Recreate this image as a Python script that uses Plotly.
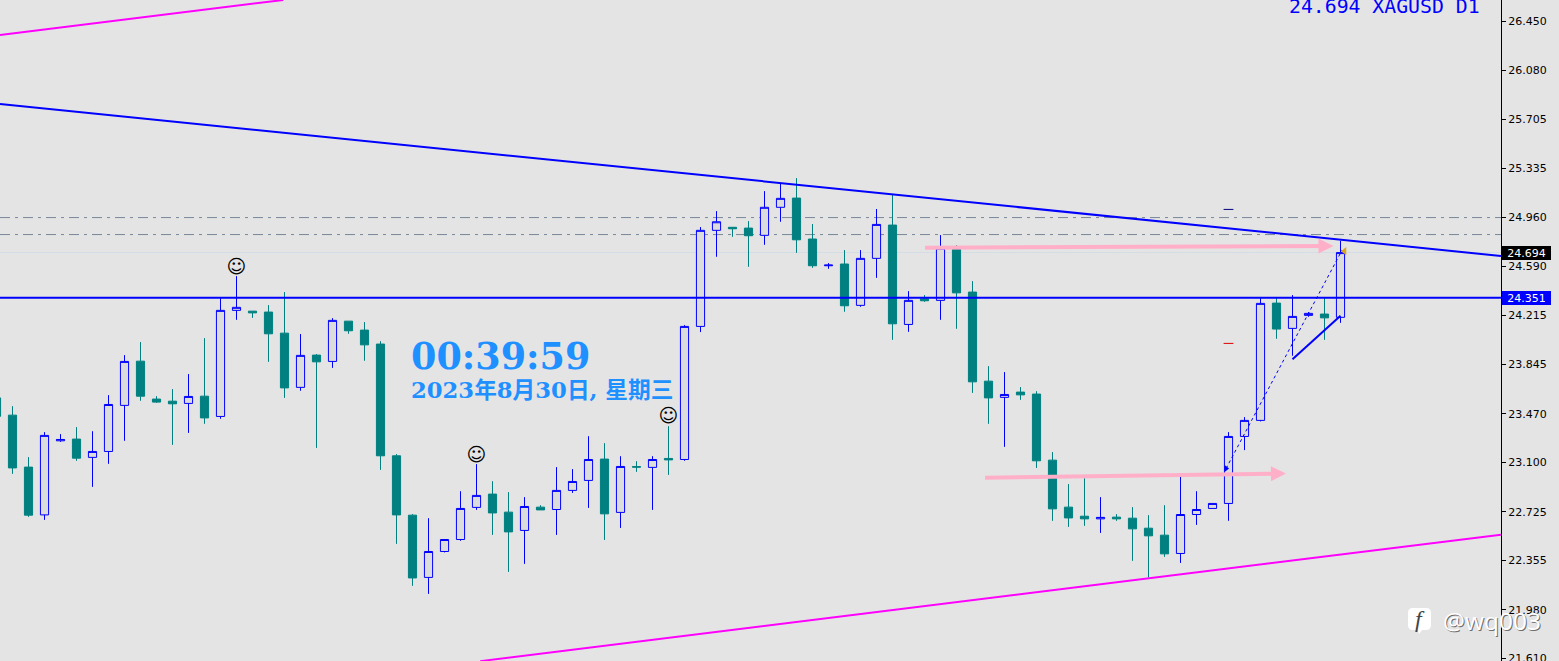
import plotly.graph_objects as go

# ---- data (prices) ----
open_ = [23.59,23.459,23.064,22.701,23.264,23.277,23.138,23.183,23.533,23.869,23.581,23.565,23.548,23.603,23.449,24.255,24.249,24.242,24.082,23.670,23.915,23.867,24.173,24.105,23.999,
         23.150,22.699,22.226,22.423,22.514,22.758,22.859,22.722,22.583,22.760,22.742,22.887,22.963,23.125,22.720,23.068,23.062,23.130,23.122,24.133,24.863,24.886,24.880,24.825,25.038,
         25.108,24.797,24.594,24.607,24.293,24.650,24.903,24.148,24.343,24.331,24.718,24.394,23.717,23.594,23.634,23.619,23.117,22.760,22.691,22.671,22.684,22.676,22.600,22.547,22.408,
         22.704,22.750,22.788,23.297,23.419,24.310,24.118,24.217,24.227,24.202]
high = [23.59,23.527,23.140,23.330,23.315,23.368,23.337,23.611,23.915,24.014,23.603,23.657,23.771,24.044,24.348,24.515,24.249,24.295,24.394,24.075,23.923,24.196,24.173,24.166,24.021,
        23.163,22.707,22.676,22.514,22.881,23.087,22.957,22.874,22.836,22.775,23.064,23.049,23.299,23.246,23.147,23.109,23.147,23.375,24.143,24.888,25.009,24.886,24.933,25.161,25.220,
        25.260,24.911,24.614,24.713,24.713,25.025,25.131,24.401,24.371,24.827,24.749,24.477,23.831,23.786,23.672,23.641,23.178,22.935,22.980,22.836,22.707,22.760,22.699,22.775,22.990,
        22.881,22.788,23.330,23.444,24.348,24.348,24.371,24.242,24.348,24.784]
low = [23.45,23.013,22.686,22.663,23.256,23.112,22.914,23.089,23.264,23.568,23.552,23.233,23.324,23.393,23.431,24.183,24.198,23.864,23.590,23.644,23.210,23.818,24.077,23.872,23.043,
       22.481,22.162,22.101,22.416,22.504,22.739,22.549,22.268,22.329,22.739,22.549,22.868,22.754,22.511,22.602,23.028,22.739,23.005,23.112,24.090,24.662,24.814,24.586,24.753,24.928,
       24.692,24.578,24.571,24.244,24.282,24.502,24.031,24.092,24.320,24.183,24.115,23.628,23.393,23.218,23.575,23.058,22.656,22.610,22.618,22.564,22.656,22.352,22.226,22.382,22.336,
       22.625,22.750,22.656,23.193,23.411,24.039,23.910,24.206,24.031,24.160]
close = [23.45,23.058,22.699,23.305,23.274,23.132,23.183,23.540,23.867,23.603,23.558,23.545,23.601,23.438,24.255,24.278,24.236,24.077,23.666,23.913,23.864,24.179,24.100,23.993,23.150,
         22.701,22.222,22.423,22.514,22.750,22.849,22.716,22.572,22.765,22.739,22.887,22.955,23.122,22.709,23.069,23.064,23.122,23.119,24.133,24.863,24.928,24.875,24.822,25.038,25.106,
         24.791,24.594,24.599,24.290,24.650,24.908,24.153,24.331,24.328,24.728,24.388,23.712,23.590,23.616,23.613,23.112,22.747,22.678,22.671,22.682,22.671,22.595,22.542,22.405,22.704,
         22.742,22.788,23.297,23.419,24.308,24.113,24.209,24.232,24.198,24.694]
bars = list(range(len(close)))

tick_labels = ["26.450","26.080","25.705","25.335","24.960","24.590","24.215","23.845","23.470","23.100","22.725","22.355","21.980","21.610"]
tick_values = [float(t) for t in tick_labels]

Y_RANGE = [21.591, 26.613]
X_RANGE = [0.21875, 94.03125]
BG = "#e4e4e4"
TEAL = "#008080"
BLUE = "#0000ff"
MAGENTA = "#ff00ff"
PINK = "#ffb0c8"

main_trend_x = [0.21875, 94.03125]
main_trend_y = [25.823, 24.668]
upper_channel_x = [0.21875, 17.92]
upper_channel_y = [26.347, 26.613]
lower_channel_x = [30.23, 94.03125]
lower_channel_y = [21.59, 22.551]
support_level = 24.351
last_price = 24.694
dash_levels = [24.960, 24.831]
zigzag_x = [76.85, 84.1]
zigzag_y = [23.054, 24.713]
short_trend_x = [81, 84]
short_trend_y = [23.883, 24.214]
smile_x = [15, 30, 42]
smile_y = [24.577, 23.148, 23.444]

fig = go.Figure()

fig.add_trace(go.Candlestick(
    x=bars, open=open_, high=high, low=low, close=close,
    increasing=dict(line=dict(color=BLUE, width=1), fillcolor="#dcdcdc"),
    decreasing=dict(line=dict(color=TEAL, width=1), fillcolor=TEAL),
    whiskerwidth=0, showlegend=False, hoverinfo="skip"))


def line(x, y, color, width, dash="solid"):
    fig.add_trace(go.Scatter(x=x, y=y, mode="lines", showlegend=False, hoverinfo="skip",
                             line=dict(color=color, width=width, dash=dash)))


line(main_trend_x, main_trend_y, BLUE, 2)
line(upper_channel_x, upper_channel_y, MAGENTA, 2)
line(lower_channel_x, lower_channel_y, MAGENTA, 2)
line(X_RANGE, [support_level, support_level], BLUE, 2)
line(zigzag_x, zigzag_y, BLUE, 1, "dot")
line(short_trend_x, short_trend_y, BLUE, 2)

# trade markers
fig.add_trace(go.Scatter(x=[zigzag_x[0]], y=[zigzag_y[0]], mode="markers", showlegend=False, hoverinfo="skip",
                         marker=dict(symbol="triangle-right", size=6, color=BLUE)))
fig.add_trace(go.Scatter(x=[84.25], y=[24.705], mode="markers", showlegend=False, hoverinfo="skip",
                         marker=dict(symbol="triangle-left", size=7, color="#daa520")))
fig.add_trace(go.Scatter(x=[77], y=[25.022], mode="markers", showlegend=False, hoverinfo="skip",
                         marker=dict(symbol="line-ew", size=7, line=dict(color="#000080", width=1))))
fig.add_trace(go.Scatter(x=[77], y=[24.004], mode="markers", showlegend=False, hoverinfo="skip",
                         marker=dict(symbol="line-ew", size=7, line=dict(color="#e00000", width=1))))

# smileys
fig.add_trace(go.Scatter(x=smile_x, y=smile_y, mode="text", text=["☺"] * 3, showlegend=False, hoverinfo="skip",
                         textposition="middle center",
                         textfont=dict(family="DejaVu Sans", size=19, color="#000000")))

# background levels
for lv in dash_levels:
    fig.add_shape(type="line", xref="paper", yref="y", x0=0, x1=1, y0=lv, y1=lv, layer="below",
                  line=dict(color="#778899", width=1, dash="10px,5px,3px,5px"))
fig.add_shape(type="line", xref="paper", yref="y", x0=0, x1=1, y0=last_price, y1=last_price, layer="below",
              line=dict(color="#d3dde6", width=1))

# pink arrows
for tail_x, tail_y, tip_x, tip_y in [(57.94, 24.731, 83.56, 24.744), (61.69, 22.983, 80.59, 23.016)]:
    fig.add_annotation(x=tip_x, y=tip_y, ax=tail_x, ay=tail_y, xref="x", yref="y", axref="x", ayref="y",
                       showarrow=True, arrowhead=2, arrowsize=0.75, arrowwidth=4, arrowcolor=PINK, text="")

# clock text
SERIF = "DejaVu Serif, Noto Sans CJK SC"
fig.add_annotation(xref="paper", yref="paper", x=411 / 1501, y=1 - 356 / 661, xanchor="left", yanchor="middle",
                   showarrow=False, text="<b>00:39:59</b>", font=dict(family=SERIF, size=36.5, color="#1e90ff"),
                   borderpad=0, borderwidth=0)
fig.add_annotation(xref="paper", yref="paper", x=411 / 1501, y=1 - 390 / 661, xanchor="left", yanchor="middle",
                   showarrow=False, text="<b>2023年8月30日, 星期三</b>", font=dict(family=SERIF, size=22.7, color="#1e90ff"),
                   borderpad=0, borderwidth=0)

# header
fig.add_annotation(xref="paper", yref="paper", x=1289 / 1501, y=1 - 6.5 / 661, xanchor="left", yanchor="middle",
                   showarrow=False, text="24.694 XAGUSD D1",
                   font=dict(family="DejaVu Sans Mono", size=19.8, color=BLUE), borderpad=0, borderwidth=0)

# price tags
for val, bg in [(last_price, "#000000"), (support_level, BLUE)]:
    fig.add_annotation(xref="paper", yref="y", x=1, y=val, xanchor="left", xshift=1, showarrow=False,
                       text=f"{val:.3f}", width=49, height=14, bgcolor=bg, borderpad=0, borderwidth=0,
                       align="center", font=dict(family="DejaVu Sans", size=11, color="#ffffff"))

# watermark
for dx, dy, col in [(1, 1, "#6e6e6e"), (0, 0, "#ffffff")]:
    fig.add_annotation(xref="paper", yref="paper", x=1443 / 1501, y=1 - 620 / 661, xanchor="left", yanchor="middle",
                       showarrow=False, text="@wq003", xshift=dx, yshift=-dy,
                       font=dict(family="Open Sans", size=24.5, color=col), borderpad=0, borderwidth=0)
P = lambda px, py: f"{px / 1501:.5f},{1 - py / 661:.5f}"
fig.add_shape(type="path", xref="paper", yref="paper", layer="above",
              path=f"M{P(1413, 608)} L{P(1426, 608)} Q{P(1431, 608)} {P(1431, 613)} L{P(1431, 625)} "
                   f"Q{P(1431, 630)} {P(1426, 630)} L{P(1422, 630)} L{P(1419, 634)} L{P(1418, 630)} "
                   f"L{P(1413, 630)} Q{P(1408, 630)} {P(1408, 625)} L{P(1408, 613)} Q{P(1408, 608)} {P(1413, 608)} Z",
              fillcolor="#ffffff", line=dict(width=0))
fig.add_annotation(xref="paper", yref="paper", x=1419.5 / 1501, y=1 - 619 / 661, xanchor="center", yanchor="middle",
                   showarrow=False, text="<i>f</i>", font=dict(family="Liberation Serif", size=24, color="#444444"),
                   borderpad=0, borderwidth=0)

fig.update_layout(
    width=1559, height=661, autosize=False,
    margin=dict(l=0, r=58, t=0, b=0, pad=0, autoexpand=False),
    paper_bgcolor=BG, plot_bgcolor=BG,
    showlegend=False, boxgap=0.27,
    xaxis=dict(range=X_RANGE, visible=False, rangeslider=dict(visible=False), fixedrange=True, automargin=False),
    yaxis=dict(range=Y_RANGE, side="right", showgrid=False, zeroline=False, showline=True, linecolor="#000000",
               linewidth=1, ticks="outside", ticklen=4, tickcolor="#000000", tickwidth=1, automargin=False,
               tickvals=tick_values, ticktext=tick_labels, fixedrange=True, ticklabeloverflow="allow",
               tickfont=dict(family="DejaVu Sans", size=11, color="#000000")),
)

fig.write_html("out.html", config={"displayModeBar": False},
               post_script="document.body.style.margin='0';document.body.style.overflow='hidden';")
